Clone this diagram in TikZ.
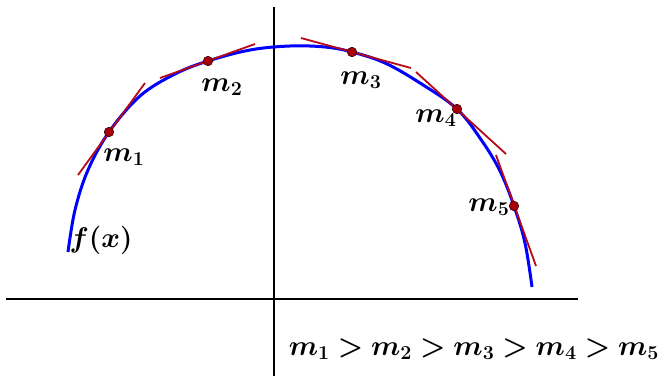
\documentclass[tikz,border=0pt]{standalone}
\usepackage{bm}
\definecolor{tanred}{RGB}{180,10,25}
\definecolor{dotred}{RGB}{170,0,10}
\tikzset{
  axis/.style={line width=2pt, black},
  curve/.style={line width=3pt, blue},
  tangent/.style={line width=1.8pt, tanred},
  pt/.style={circle, fill=dotred, draw=black!70!dotred, line width=0.6pt, inner sep=0pt, minimum size=9.5pt},
  lab/.style={font=\huge, scale=1.37, inner sep=0pt}
}
\begin{document}
\begin{tikzpicture}[x=1pt,y=-1pt]
\useasboundingbox (0,0) rectangle (659,376);
% axes
\coordinate (xl) at (6,299);
\coordinate (xr) at (578,299);
\coordinate (yt) at (274,7);
\coordinate (yb) at (274,376);
\draw[axis] (xl) -- (xr);
\draw[axis] (yt) -- (yb);
% curve
\draw[curve] plot[smooth, tension=0.6] coordinates {(68,252) (75,210) (88,170) (109,132) (140,96) (175,74) (208,61) (250,50) (290,46) (325,47) (352,52) (385,63) (420,83) (457,109) (482,141) (500,171) (514,206) (525,243) (532,287)};
% tangents
\coordinate (t1a) at (78,175); \coordinate (t1b) at (145,83);
\coordinate (t2a) at (160,78); \coordinate (t2b) at (255,44);
\coordinate (t3a) at (301,38); \coordinate (t3b) at (411,68);
\coordinate (t4a) at (416,72); \coordinate (t4b) at (506,154);
\coordinate (t5a) at (496,155); \coordinate (t5b) at (536,266);
\draw[tangent] (t1a) -- (t1b);
\draw[tangent] (t2a) -- (t2b);
\draw[tangent] (t3a) -- (t3b);
\draw[tangent] (t4a) -- (t4b);
\draw[tangent] (t5a) -- (t5b);
% points
\node[pt] (p1) at (109,132) {};
\node[pt] (p2) at (208,61) {};
\node[pt] (p3) at (352,52) {};
\node[pt] (p4) at (457,109) {};
\node[pt] (p5) at (514,206) {};
% labels
\node[lab] (l1) at (124,157) {$\bm{m_1}$};
\node[lab] (l2) at (222,87) {$\bm{m_2}$};
\node[lab] (l3) at (361,80) {$\bm{m_3}$};
\node[lab] (l4) at (436,118) {$\bm{m_4}$};
\node[lab] (l5) at (489,207) {$\bm{m_5}$};
\node[lab] (fx) at (101,240) {$\bm{f(x)}$};
\node[lab] (ineq) at (474,349) {$\bm{m_1 > m_2 > m_3 > m_4 > m_5}$};
\end{tikzpicture}
\end{document}
